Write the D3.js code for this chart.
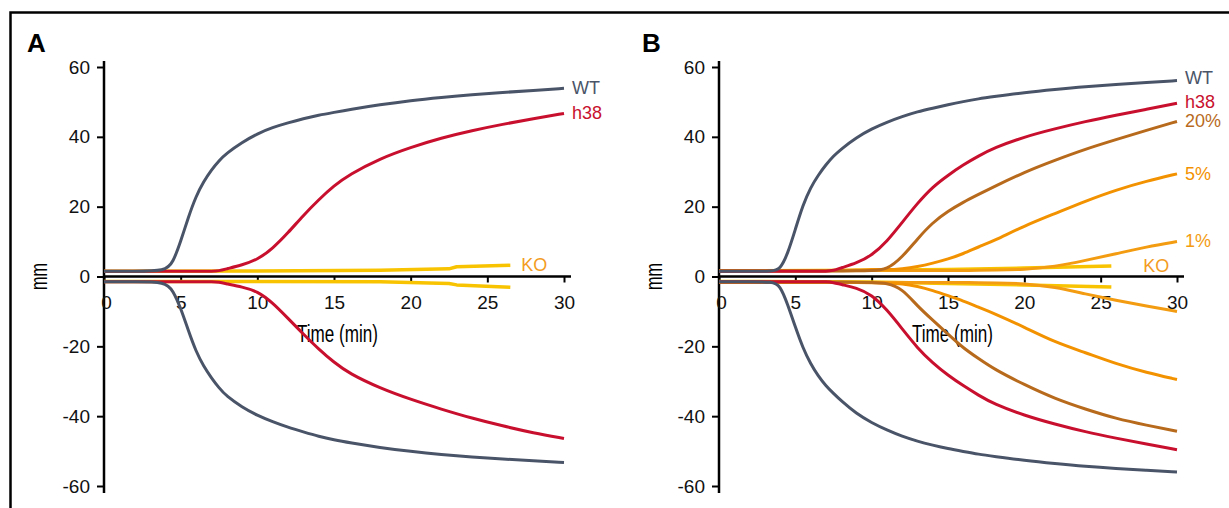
<!DOCTYPE html>
<html>
<head>
<meta charset="utf-8">
<script src="https://cdn.jsdelivr.net/npm/d3@7"></script>
<style>
  body { margin: 0; background: #fff; }
  svg { display: block; font-family: "Liberation Sans", Arial, sans-serif; }
</style>
</head>
<body>
<svg id="chart" width="1229" height="508"></svg>
<script>
// ---- data (mm) ----
// panel A
var timeA = [0, 2, 4, 4.5, 5, 5.5, 6, 6.5, 7, 7.5, 8, 9, 10, 11, 12, 13, 14, 15, 16, 18, 20, 22, 24, 26, 28, 30];
var wtUpA = [1.5, 1.5, 1.5, 4, 10, 17, 23, 27.2, 30.5, 33.2, 35.3, 38.4, 40.9, 42.7, 44, 45.2, 46.2, 47, 47.8, 49.2, 50.4, 51.3, 52.1, 52.7, 53.3, 53.9];
var wtDownA = [-1.5, -1.5, -1.5, -4, -9, -15.5, -21.5, -25.7, -29, -31.9, -34.3, -37.4, -39.8, -41.6, -43.2, -44.5, -45.8, -46.8, -47.6, -49, -50.1, -51, -51.7, -52.3, -52.8, -53.3];
var h38UpA = [1.5, 1.5, 1.5, 1.5, 1.5, 1.5, 1.5, 1.5, 1.5, 1.6, 2.2, 3.3, 4.8, 8, 12.5, 17.5, 22, 26, 29.2, 33.8, 37, 39.7, 41.8, 43.6, 45.2, 46.7];
var h38DownA = [-1.5, -1.5, -1.5, -1.5, -1.5, -1.5, -1.5, -1.5, -1.5, -1.6, -2.1, -3, -4.2, -7.5, -12, -16.5, -20.8, -24.6, -27.8, -32, -35.2, -38, -40.6, -42.8, -44.8, -46.4];
var koTimeA = [0, 10, 18, 22.5, 23, 26.5];
var koUpA = [1.5, 1.6, 1.8, 2.2, 2.8, 3.2];
var koDownA = [-1.4, -1.4, -1.5, -2.0, -2.4, -3.1];

// panel B
var timeB = [0, 2, 3.5, 4, 4.5, 5, 5.5, 6, 6.5, 7, 7.5, 8, 9, 10, 11, 12, 13, 14, 15, 16, 17, 18, 20, 22, 24, 26, 28, 30];
var wtUpB = [1.5, 1.5, 1.5, 2, 6.5, 13.5, 20.5, 25.5, 29, 32, 34.5, 36.5, 39.8, 42.3, 44.2, 45.8, 47.2, 48.2, 49.2, 50.1, 50.9, 51.5, 52.7, 53.6, 54.4, 55, 55.6, 56.1];
var wtDownB = [-1.5, -1.5, -1.5, -2.5, -8, -14.5, -20.5, -25, -28.5, -31.3, -33.5, -35.6, -39.3, -41.9, -44, -45.8, -47.2, -48.3, -49.3, -50.1, -50.9, -51.5, -52.7, -53.6, -54.4, -55, -55.5, -56];
var h38UpB = [1.5, 1.5, 1.5, 1.5, 1.5, 1.5, 1.5, 1.5, 1.5, 1.5, 1.7, 2.5, 3.8, 6, 10, 15.5, 21, 25.7, 29, 32, 34.5, 36.8, 40, 42.3, 44.4, 46.2, 47.9, 49.6];
var h38DownB = [-1.5, -1.5, -1.5, -1.5, -1.5, -1.5, -1.5, -1.5, -1.5, -1.5, -1.7, -2.3, -3.2, -5.2, -9.5, -15, -20.5, -24.8, -28.3, -31.3, -34, -36.5, -39.8, -42.3, -44.5, -46.3, -48, -49.6];
var p20UpB = [1.6, 1.6, 1.6, 1.6, 1.6, 1.6, 1.6, 1.6, 1.6, 1.6, 1.6, 1.6, 1.6, 1.7, 1.9, 5.5, 10.8, 15.5, 18.7, 21.3, 23.5, 25.7, 29.9, 33.3, 36.5, 39.2, 41.9, 44.4];
var p20DownB = [-1.6, -1.6, -1.6, -1.6, -1.6, -1.6, -1.6, -1.6, -1.6, -1.6, -1.6, -1.6, -1.6, -1.7, -1.8, -3.5, -8.5, -12.5, -16.5, -20.5, -23.5, -26.5, -31, -35, -38, -40.7, -42.6, -44.3];
var p5UpB = [1.7, 1.7, 1.7, 1.7, 1.7, 1.7, 1.7, 1.7, 1.7, 1.7, 1.7, 1.7, 1.8, 2.1, 1.9, 2.2, 2.8, 3.8, 5, 6.5, 8.5, 10.2, 14.5, 18, 21.6, 24.8, 27.3, 29.4];
var p5DownB = [-1.7, -1.7, -1.7, -1.7, -1.7, -1.7, -1.7, -1.7, -1.7, -1.7, -1.7, -1.7, -1.7, -1.8, -1.9, -2, -2.8, -4, -5.5, -7, -8.8, -10.5, -14.5, -18.8, -21.8, -25, -27.5, -29.5];
var p1UpB = [1.7, 1.7, 1.7, 1.7, 1.7, 1.7, 1.7, 1.7, 1.7, 1.7, 1.7, 1.7, 1.7, 1.7, 1.7, 1.7, 1.7, 1.7, 1.7, 1.7, 1.8, 1.8, 2, 2.8, 4.6, 6.5, 8.5, 10];
var p1DownB = [-1.7, -1.7, -1.7, -1.7, -1.7, -1.7, -1.7, -1.7, -1.7, -1.7, -1.7, -1.7, -1.7, -1.7, -1.7, -1.7, -1.7, -1.7, -1.7, -1.7, -1.8, -1.8, -2, -3, -5, -6.8, -8.5, -10];
var koTimeB = [0, 10, 15, 20, 25.7];
var koUpB = [1.6, 1.8, 2.0, 2.4, 3.0];
var koDownB = [-1.4, -1.6, -2.0, -2.4, -3.0];

var xTicks = [0, 5, 10, 15, 20, 25, 30];
var yTicks = [-60, -40, -20, 0, 20, 40, 60];

var colors = {
    WT: "#4a5468",
    h38: "#c8102e",
    "20%": "#b86a1c",
    "5%": "#f39200",
    "1%": "#f39c12",
    KO: "#f8c300",
    KOlabel: "#f39c1f"
};

var svg = d3.select("#chart");

// frame (only top and left edges show in the crop)
svg.append("path")
    .attr("d", "M10.5,508 V12.5 H1229")
    .attr("fill", "none")
    .attr("stroke", "#000")
    .attr("stroke-width", 2.5);

function Panel(letter, left, right, series, labels) {
    var x = d3.scaleLinear().domain([0, 30]).range([left, right]);
    var y = d3.scaleLinear().domain([-60, 60]).range([486, 67]);
    var g = svg.append("g");

    // panel letter
    g.append("text")
        .attr("x", left - 77)
        .attr("y", 52)
        .style("font-size", "26px")
        .style("font-weight", "700")
        .text(letter);

    // y axis (plain hyphen for negatives, like the original)
    var ya = g.append("g")
        .attr("transform", "translate(" + left + ",0)")
        .call(d3.axisLeft(y).tickValues(yTicks).tickFormat(d => String(d))
            .tickSize(7).tickPadding(7).tickSizeOuter(0));
    ya.select(".domain").remove();
    ya.selectAll("line").attr("stroke-width", 2);
    ya.selectAll("text").style("font-size", "19px").attr("fill", "#111");
    g.append("line")
        .attr("x1", left).attr("x2", left)
        .attr("y1", y(60) - 6).attr("y2", y(-60) + 7)
        .attr("stroke", "#000").attr("stroke-width", 2.5);

    // x axis at zero
    var xa = g.append("g")
        .attr("transform", "translate(0," + y(0) + ")")
        .call(d3.axisBottom(x).tickValues(xTicks).tickFormat(d => String(d))
            .tickSize(6).tickPadding(13).tickSizeOuter(0));
    xa.select(".domain").remove();
    xa.selectAll("line").attr("stroke-width", 2);
    xa.selectAll("text").style("font-size", "19px").attr("fill", "#111");
    xa.selectAll(".tick").filter(d => d === 0).select("text").attr("x", 2);
    g.append("line")
        .attr("x1", left).attr("x2", right + 7)
        .attr("y1", y(0)).attr("y2", y(0))
        .attr("stroke", "#000").attr("stroke-width", 2.5);

    // axis titles
    g.append("text")
        .attr("x", left + 193)
        .attr("y", 342)
        .style("font-size", "23px")
        .attr("textLength", 81)
        .attr("lengthAdjust", "spacingAndGlyphs")
        .text("Time (min)");
    g.append("text")
        .attr("transform", "translate(" + (left - 57) + "," + y(0) + ") rotate(-90)")
        .attr("text-anchor", "middle")
        .style("font-size", "23px")
        .attr("textLength", 27)
        .attr("lengthAdjust", "spacingAndGlyphs")
        .text("mm");

    // curves
    var line = d3.line()
        .x(d => x(d[0]))
        .y(d => y(d[1]));

    series.forEach(function (s) {
        [s.up, s.down].forEach(function (vals) {
            g.append("path")
                .datum(s.t.map((t, i) => [t, vals[i]]))
                .attr("fill", "none")
                .attr("stroke", colors[s.name])
                .attr("stroke-width", s.width || 3)
                .attr("stroke-linejoin", "round")
                .attr("d", line.curve(s.linear ? d3.curveLinear : d3.curveBasis));
        });
    });

    // end labels
    labels.forEach(function (l) {
        var s = series.find(d => d.name === l.name);
        var n = s.t.length - 1;
        g.append("text")
            .attr("x", x(s.t[n]) + l.dx)
            .attr("y", y(s.up[n]) + l.dy)
            .style("font-size", "18px")
            .attr("fill", l.color || colors[l.name])
            .text(l.name);
    });
}

Panel("A", 104, 564,
    [
        { name: "KO", t: koTimeA, up: koUpA, down: koDownA, linear: true, width: 3.5 },
        { name: "h38", t: timeA, up: h38UpA, down: h38DownA },
        { name: "WT", t: timeA, up: wtUpA, down: wtDownA }
    ],
    [
        { name: "WT", dx: 8, dy: 6 },
        { name: "h38", dx: 8, dy: 6 },
        { name: "KO", dx: 11, dy: 6, color: colors.KOlabel }
    ]);

Panel("B", 719, 1177,
    [
        { name: "KO", t: koTimeB, up: koUpB, down: koDownB, linear: true, width: 3.5 },
        { name: "1%", t: timeB, up: p1UpB, down: p1DownB },
        { name: "5%", t: timeB, up: p5UpB, down: p5DownB },
        { name: "20%", t: timeB, up: p20UpB, down: p20DownB },
        { name: "h38", t: timeB, up: h38UpB, down: h38DownB },
        { name: "WT", t: timeB, up: wtUpB, down: wtDownB }
    ],
    [
        { name: "WT", dx: 8, dy: 3 },
        { name: "h38", dx: 8, dy: 5 },
        { name: "20%", dx: 8, dy: 6 },
        { name: "5%", dx: 8, dy: 6 },
        { name: "1%", dx: 8, dy: 5 },
        { name: "KO", dx: 32, dy: 6, color: colors.KOlabel }
    ]);
</script>
</body>
</html>
